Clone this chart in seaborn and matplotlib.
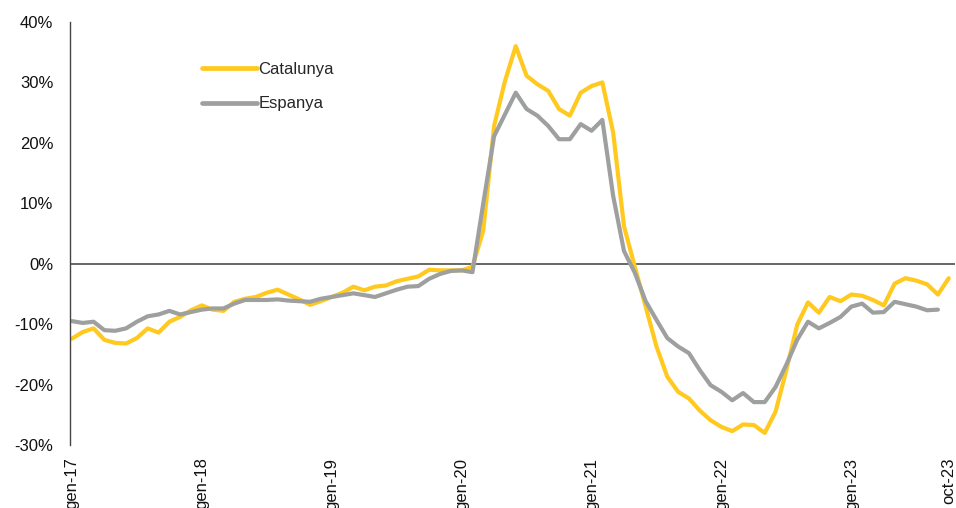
import numpy as np
import pandas as pd
import matplotlib
matplotlib.use("Agg")
import matplotlib.pyplot as plt
import seaborn as sns

# monthly series, gen-17 .. oct-23 (Espanya stops at sep-23)
catalunya = [
    -12.4, -11.3, -10.7, -12.6, -13.1, -13.2, -12.3, -10.7, -11.4, -9.6, -8.8, -7.7,
    -6.9, -7.6, -7.8, -6.3, -5.8, -5.5, -4.8, -4.3, -5.1, -5.9, -6.8, -6.2,
    -5.5, -4.8, -3.8, -4.4, -3.8, -3.6, -2.9, -2.5, -2.1, -1.0, -1.1, -1.1,
    -1.1, -0.5, 5.5, 22.8, 30.2, 36.0, 31.1, 29.7, 28.6, 25.6, 24.5, 28.3,
    29.4, 30.0, 21.7, 6.2, -0.5, -7.1, -13.7, -18.7, -21.2, -22.3, -24.3, -25.9,
    -27.0, -27.7, -26.6, -26.7, -28.0, -24.5, -17.6, -10.1, -6.4, -8.1, -5.5, -6.2,
    -5.1, -5.3, -6.0, -6.9, -3.3, -2.4, -2.8, -3.4, -5.1, -2.4,
]
espanya = [
    -9.5, -9.8, -9.6, -11.0, -11.1, -10.7, -9.6, -8.7, -8.4, -7.8, -8.4, -8.0,
    -7.6, -7.4, -7.4, -6.6, -6.0, -6.0, -6.0, -5.9, -6.1, -6.2, -6.3, -5.8,
    -5.5, -5.2, -4.9, -5.2, -5.5, -4.9, -4.3, -3.8, -3.7, -2.5, -1.7, -1.2,
    -1.1, -1.4, 10.0, 21.1, 24.7, 28.3, 25.6, 24.5, 22.8, 20.6, 20.6, 23.1,
    22.0, 23.8, 11.2, 2.1, -1.5, -6.2, -9.3, -12.3, -13.7, -14.8, -17.6, -20.1,
    -21.2, -22.6, -21.4, -22.9, -22.9, -20.4, -16.7, -12.6, -9.6, -10.7, -9.8, -8.8,
    -7.1, -6.6, -8.1, -8.0, -6.3, -6.7, -7.1, -7.7, -7.6,
]
tick_pos = [0, 12, 24, 36, 48, 60, 72, 81]
tick_labels = ["gen-17", "gen-18", "gen-19", "gen-20", "gen-21", "gen-22", "gen-23", "oct-23"]
y_ticks = [-30, -20, -10, 0, 10, 20, 30, 40]

df = pd.concat([
    pd.DataFrame({"mes": np.arange(len(catalunya)), "valor": catalunya, "serie": "Catalunya"}),
    pd.DataFrame({"mes": np.arange(len(espanya)), "valor": espanya, "serie": "Espanya"}),
])

sns.set_style("white")
plt.rcParams["font.family"] = ["Liberation Sans", "DejaVu Sans"]

fig = plt.figure(figsize=(9.56, 5.08), dpi=100)
ax = fig.add_axes([0.0732, 0.124, 0.926, 0.8327])

colors = {"Catalunya": "#FFC91F", "Espanya": "#9EA0A0"}
ax.axhline(0, color="#5a5a5a", lw=1.3, zorder=1)
sns.lineplot(data=df, x="mes", y="valor", hue="serie", palette=colors,
             linewidth=3.0, ax=ax, legend=False, zorder=2)
for line in ax.get_lines()[1:]:
    line.set_solid_capstyle("round")
    line.set_solid_joinstyle("round")

ax.set_xlim(-0.18, 81.6)
ax.set_ylim(-30, 40)
ax.set_xticks(tick_pos)
ax.set_xticklabels(tick_labels, rotation=90, va="top", ha="center")
ax.set_yticks(y_ticks)
ax.set_yticklabels([f"{v}%" for v in y_ticks])
ax.tick_params(axis="both", length=0, labelsize=12, colors="#111111")
ax.tick_params(axis="y", pad=12)
ax.tick_params(axis="x", pad=9)
ax.set_xlabel("")
ax.set_ylabel("")

for side in ["top", "right", "bottom"]:
    ax.spines[side].set_visible(False)
ax.spines["left"].set_color("#444444")
ax.spines["left"].set_linewidth(1.0)

handles = [plt.Line2D([], [], color=colors[k], lw=3.4, solid_capstyle="round") for k in colors]
ax.legend(handles, list(colors), loc="upper left", bbox_to_anchor=(0.149, 0.905),
          frameon=False, fontsize=12, handlelength=3.3, handletextpad=0.1,
          labelspacing=1.15, borderpad=0, borderaxespad=0)

fig.savefig("out.png", dpi=100)
